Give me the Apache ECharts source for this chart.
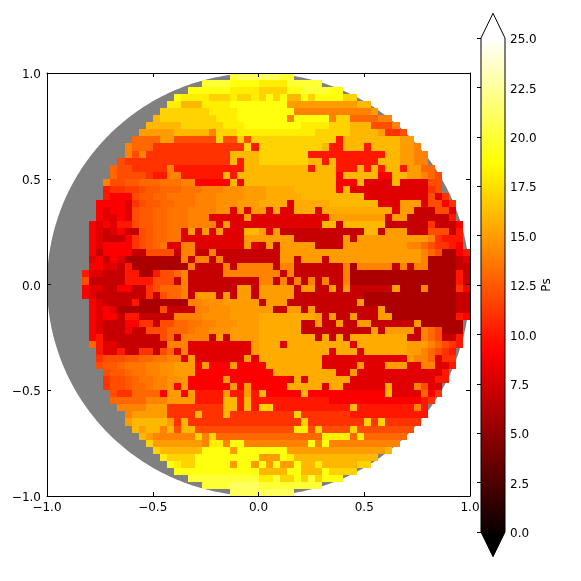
<!DOCTYPE html>
<html>
<head>
<meta charset="utf-8">
<script src="https://cdn.jsdelivr.net/npm/echarts@6/dist/echarts.min.js"></script>
<style>
html,body{margin:0;padding:0;background:#fff}
#chart{width:581px;height:581px}
</style>
</head>
<body>
<div id="chart"></div>
<script>
// 60 x 60 map, top row first, one base-36 digit per cell = Ps value
// (capital letter = half a step more), '.' = no data
var rowCodes=[
'.......... .......... ......klll lllkk..... .......... ..........',
'.......... .......... ..kkkkjjjj iiiikkkkk. .......... ..........',
'.......... .......... jjjjjjiiii hhhhjjkkkk jj........ ..........',
'.......... ........ji iiihhhihhi hjhjggjhjj jjhh...... ..........',
'.......... .......iig ggiiiijjjj jjjjffffff ffffgg.... ..........',
'.......... ......hhhh hhhiiiijjj jjjjjeeeee eeeeeef... ..........',
'.......... .....ghhhh hhhhiiijjj jjjjejjjjj ehhddddee. ..........',
'.......... ....gggggh hhhhhiiijj jjjjjjiiii hhhgggccce ..........',
'.......... ...fffffgg gggehhhiii iiiiiiiihh hhhggggfbb c.........',
'.......... ..ddddffcc cccchcchch hhhhhhhhhh hagggggggg ff........',
'.......... .edddbbbbb bbbbbbbbha hhhhhhhhhg aagggagggg ffe.......',
'.......... .ecebbbbbb bbbbbbgggg hhhhhhhaaa aaaaaaaagg ffee......',
'.......... cbbbbbbbbb bbbbbbgagg hhhhhhhgga gaaaaaaggg ffee......',
'.........d ccbbbbbeaa aaaaaaaagg gggggggagg gaaagagagg affdd.....',
'.........d ccccbaaeea aaaaagaggg gggggggggg g9ggggg99g gffedc....',
'........ec cCCdddDDDe e99999g9gg gggggggggg g999g8888g 8888cc....',
'........ab bBBcCCdddD DDeeeEEEff fFFFFggggg g9g8888888 8888bc....',
'........a9 99cCCddDDD DeeeEEEEff fFFFFFgggg ggggg88888 8888c8b...',
'.......999 98bcCCddDD DeeeEEEfff FFFF8FFFFF ggggggg888 fff8cc9b..',
'.......989 98cCCddDDD eeeeEE8f8f f8F88FFF8F FFFFFFFFF8 ff777cc8..',
'.......988 98cCCddDDD eee88888f8 8888888888 ffffffff8f f777777a..',
'......9898 aacCCddDDD eeee8f8888 888888888g g7gggggg77 7777b7779.',
'......9878 977cCddDD8 f8f8f888gg f8f7777777 77777gg7ff f777ccc7a.',
'......9877 79bcCddDD8 88888888ff fffff77777 77f7ffffff ffffebaaa.',
'......9899 99bcCdD88e e8888888f8 7f7fffff77 77ffffffff feedcbba9.',
'......9799 9977cccc7e e77e777777 777fffffff ffffffffff fffedc669a',
'......8979 866666666e 7ee7e77777 777ff7fff7 ffffffffff fffe666678',
'......9988 7a66666666 e7777e7eee ee7ee77777 77e6eeeee7 e7ee666677',
'.....a8877 7aa66accde 77777eeeee eee7e77777 77e6666666 66666666a7',
'.....c7777 7aaaaccc7e 7777777777 ee7e7e7e7e 77e6666666 66666666a7',
'.....98877 9977bcddde 7777777ff7 fffff7ff77 f7f777777f 666e6666b9',
'.....98777 7777b7cdde 7fff7f7ff7 fffff77777 7777766666 6666666677',
'......9877 77a6666666 eeEEEfffff 7fff777777 7777f66666 6666666677',
'......9898 666666c777 7eeEEEffff ff77ff7f77 7777777f66 6666666677',
'......9899 7aa77777ee eeEEEEffff FFFFFFFFf7 f77f777ff6 66666666a9',
'......9877 799bb7ccdd DDeeEEEfff FFFFFF77f7 7f77ff7777 77f666666.',
'......9877 7977cccddd DeeEEEffff FFFFFF7777 777777f7ff ff7edc666.',
'......9a77 777777cd7e eee7f7ffff FFFFFFFF7F 7F7FFFFFFF F77edc77a.',
'......da88 7777777eee 888888888f FFF8FFFFFF FFF8FFFFFF Ffffedcba.',
'.......a88 a77bb7cd8e 888888888f FFFFFFFFFF 8FFF8FFFFF Fffedcba..',
'.......bcc cCCddDDee8 f8888888f8 FFFFFFFFF8 8888888888 8feed8bb..',
'.......cCC dDDDeeEEff f9f999f999 9FFFFFFFF8 8888f888ff f88ee88a..',
'........cC CdDDeeEEff f999999999 99FFFFFFFF F88f888888 888888a...',
'........bc cCdDDeeEEf 99999f9999 99998F8FFF FFF8888888 88888aa...',
'........bc cCddDeeE9f 999999f9f9 9999FFFFF8 FF888888F8 88ec88....',
'.........c bbdddd9ff9 faaaafaafa g99999g999 99999999g8 888d9b....',
'.........d ddddeeefff faaaaggaga aaaaaaaaaa 9999999999 999ab.....',
'.......... eeeefffbbb bbbbbggaga hhaaaaaaaa aaagaaaaaa aaea......',
'.......... .efffffbbb bgbbbgbbbb bbbbbhbbbb bbbaaaaaaa aaaa......',
'.......... .fgggggfbg bbbbbbbbbb bbbbbbhbbb bbbbbhbhbb bbb.......',
'.......... ..gfggegcg gccccccccc ccccciichc ccchcccccc cc........',
'.......... ...gfeeeee ehehdddddd dddddddddi iiididdddd d.........',
'.......... ....hfffff ffeiiejjee eeeeeeejej eeeeeeeeee ..........',
'.......... .....hgggg ggjjjjfjjj jjjjffffff ffffffffg. ..........',
'.......... ......ihhh hjjjjjjjjj fffjiggggg ggggggg... ..........',
'.......... .......jih hjjjjjfjjf jfjffjggig gggghh.... ..........',
'.......... ........jj jjjjjjjjjj ggggjjgggj hhhh...... ..........',
'.......... .......... kkkkkkkkkk iikhhjhkhj jj........ ..........',
'.......... .......... ..kkkkllll kkkkkkkkk. .......... ..........',
'.......... .......... ......llll lllll..... .......... ..........'
];
var colorMin=0;
var colorMax=25;
var barTicks=2.5;
var axisTicks=0.5;
var barName='Ps';

var FONT='DejaVu Sans';

function hot(t){
	var r=Math.min(1,0.0416+t/0.365079*0.9584);
	var g=Math.max(0,Math.min(1,(t-0.365079)/0.380953));
	var b=Math.max(0,Math.min(1,(t-0.746032)/0.253968));
	return 'rgb('+Math.round(r*255)+','+Math.round(g*255)+','+Math.round(b*255)+')';
}

var cells=[];
var nGrid=rowCodes.length;
var step=2/nGrid;
rowCodes.forEach(function(row,j){
	row.split(' ').forEach(function(chunk,k){
		for(var n=0;n<chunk.length;n++){
			var ch=chunk[n];
			if(ch=='.') continue;
			var val=parseInt(ch,36)+(ch>='A'&&ch<='Z'?0.5:0);
			cells.push([-1+(k*10+n)*step,1-j*step,val]);
		}
	});
});

var stops=[];
for(var s=0;s<=40;s++){
	stops.push({offset:s/40,color:hot(1-s/40)});
}

function minusLabel(v){
	return v.toFixed(1).replace('-','\u2212');
}

// pushes vertical axis labels down a little
var lowered={p:{color:'#000',fontFamily:FONT,fontSize:12,padding:[4,0,0,0]}};

function mainAxis(pos,labels){
	return {
		type:'value',gridIndex:0,position:pos,min:-1,max:1,interval:axisTicks,z:10,
		splitLine:{show:false},
		axisLine:{show:true,onZero:false,lineStyle:{color:'#000',width:1}},
		axisTick:{show:true,inside:true,length:4,lineStyle:{color:'#000',width:1}},
		axisLabel:{show:labels,color:'#000',fontFamily:FONT,fontSize:12,margin:6,formatter:minusLabel,
			showMinLabel:true,showMaxLabel:true}
	};
}

var xMain=mainAxis('bottom',true);
var yMain=mainAxis('left',true);
yMain.axisLabel.rich=lowered;
yMain.axisLabel.formatter=function(v){return '{p|'+minusLabel(v)+'}';};

var option={
	animation:false,
	backgroundColor:'#fff',
	grid:[
		{left:47,top:73,width:423,height:423},
		{left:481,top:38,width:24,height:494}
	],
	xAxis:[
		xMain,
		mainAxis('top',false),
		{type:'value',gridIndex:1,min:0,max:1,show:false}
	],
	yAxis:[
		yMain,
		mainAxis('right',false),
		{
			type:'value',gridIndex:1,position:'right',min:colorMin,max:colorMax,interval:barTicks,z:10,
			name:barName,nameLocation:'middle',nameGap:36,nameRotate:90,
			nameTextStyle:{color:'#000',fontFamily:FONT,fontSize:12},
			splitLine:{show:false},
			axisLine:{show:false},
			axisTick:{show:true,inside:true,length:4,lineStyle:{color:'#000',width:1}},
			axisLabel:{color:'#000',fontFamily:FONT,fontSize:12,margin:5,rich:lowered,
				formatter:function(v){return '{p|'+v.toFixed(1)+'}';},
				showMinLabel:true,showMaxLabel:true}
		}
	],
	series:[
		{
			// grey disc behind the map
			type:'custom',xAxisIndex:0,yAxisIndex:0,z:1,clip:true,silent:true,
			data:[[0,0,1]],
			renderItem:function(params,api){
				var pts=[];
				for(var a=0;a<360;a+=1){
					var t=a*Math.PI/180;
					pts.push(api.coord([api.value(0)+api.value(2)*Math.cos(t),api.value(1)+api.value(2)*Math.sin(t)]));
				}
				return {type:'polygon',shape:{points:pts},style:{fill:'#808080'}};
			}
		},
		{
			type:'custom',xAxisIndex:0,yAxisIndex:0,z:2,clip:true,silent:true,
			data:cells,
			renderItem:function(params,api){
				var a=api.coord([api.value(0),api.value(1)]);
				var b=api.coord([api.value(0)+step,api.value(1)-step]);
				var x0=Math.round(a[0]),y0=Math.round(a[1]);
				var c=hot((api.value(2)-colorMin)/(colorMax-colorMin));
				return {type:'rect',shape:{x:x0,y:y0,width:Math.round(b[0])-x0,height:Math.round(b[1])-y0},style:{fill:c}};
			}
		},
		{
			// colorbar with its two extension arrows
			type:'custom',xAxisIndex:2,yAxisIndex:2,z:2,silent:true,
			data:[[0,colorMin,colorMax]],
			renderItem:function(params,api){
				var lo=api.value(1),hi=api.value(2),ext=(hi-lo)*0.05;
				var p0=api.coord([0,lo]),p1=api.coord([1,hi]);
				var topTip=api.coord([0.5,hi+ext]),botTip=api.coord([0.5,lo-ext]);
				return {type:'group',children:[
					{type:'polygon',shape:{points:[[p0[0],p1[1]],topTip,[p1[0],p1[1]]]},style:{fill:'#fff'}},
					{type:'polygon',shape:{points:[[p0[0],p0[1]],botTip,[p1[0],p0[1]]]},style:{fill:'#000'}},
					{type:'rect',shape:{x:p0[0],y:p1[1],width:p1[0]-p0[0],height:p0[1]-p1[1]},
						style:{fill:new echarts.graphic.LinearGradient(0,0,0,1,stops)}},
					{type:'polygon',shape:{points:[[p0[0],p1[1]],topTip,[p1[0],p1[1]],[p1[0],p0[1]],botTip,[p0[0],p0[1]]]},
						style:{fill:'none',stroke:'#000',lineWidth:1}}
				]};
			}
		}
	]
};

var chart=echarts.init(document.getElementById('chart'));
chart.setOption(option);
</script>
</body>
</html>
